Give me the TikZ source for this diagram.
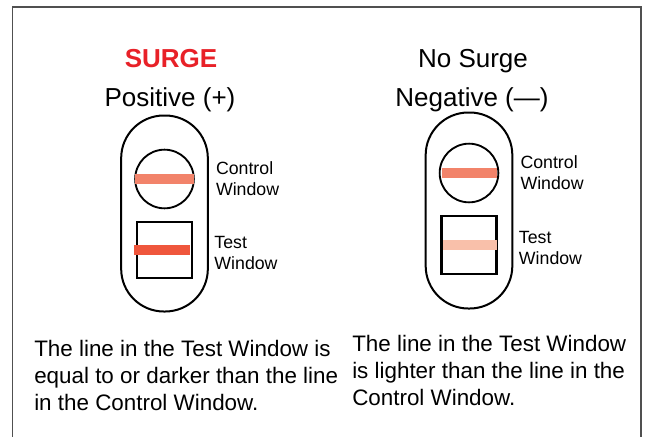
\documentclass[tikz,border=0pt]{standalone}
\usepackage{fontspec}
\setmainfont{Liberation Sans}
\usetikzlibrary{positioning}
\definecolor{surgered}{HTML}{E82128}
\definecolor{ctrlred}{HTML}{F2836A}
\definecolor{darkred}{HTML}{EF563C}
\definecolor{lightred}{HTML}{F9C0AA}
\definecolor{framegray}{HTML}{505050}

\begin{document}
\begin{tikzpicture}[
  x=0.75pt,y=-0.75pt,
  node distance=15.75pt,
  pill/.style={draw,line width=1.5pt,rounded corners=32pt,minimum width=65pt,minimum height=147pt,inner sep=0pt},
  ctrlwin/.style={draw,circle,line width=1.4pt,minimum size=44pt,inner sep=0pt},
  testwin/.style={draw,rectangle,line width=1.8pt,minimum width=41.25pt,minimum height=42pt,inner sep=0pt},
  winlabel/.style={align=left,inner sep=0pt,font=\fontsize{13.3}{15.75}\selectfont},
  title/.style={anchor=base,inner sep=0pt,font=\fontsize{19.5}{24}\selectfont},
  note/.style={anchor=base west,align=left,inner sep=0pt,font=\fontsize{16.8}{20.25}\selectfont},
  stripe/.style={line width=7pt}
]
\useasboundingbox (0,0) rectangle (649,436);
\draw[framegray,line width=1.2pt] (12.5,445) -- (12.5,7) -- (641,7) -- (641,445);

% positive side
\node[title,text=surgered,font=\fontsize{19.5}{24}\selectfont\bfseries] (posA) at (171,67) {SURGE};
\node[title] (posB) at (170,106.5) {Positive (+)};
\node[pill] (pillPos) at (164.5,213.5) {};
\node[ctrlwin] (ctrlPos) at (164.5,179) {};
\node[testwin] (testPos) at (164.5,250) {};
\draw[stripe,ctrlred] ([xshift=0.75pt]ctrlPos.west) -- ([xshift=-0.75pt]ctrlPos.east);
\draw[stripe,darkred] ([xshift=-1.5pt]testPos.west) -- ([xshift=-2.25pt]testPos.east);
\node[winlabel,right=of ctrlPos] (ctrlPosL) {Control\\Window};
\node[winlabel,right=of testPos,yshift=-2pt] (testPosL) {Test\\Window};
\node[note] (notePos) at (34,410) {The line in the Test Window is\\equal to or darker than the line\\in the Control Window.};

% negative side
\node[title] (negA) at (473,67) {No Surge};
\node[title] (negB) at (472,106) {Negative (—)};
\node[pill] (pillNeg) at (469,210.5) {};
\node[ctrlwin] (ctrlNeg) at (469,173) {};
\node[testwin,minimum height=43.5pt] (testNeg) at (469,245) {};
\draw[stripe,ctrlred] ([xshift=2.25pt]ctrlNeg.west) -- ([xshift=-1.5pt]ctrlNeg.east);
\draw[stripe,lightred] ([xshift=2.25pt]testNeg.west) -- ([xshift=-0.75pt]testNeg.east);
\node[winlabel,right=of ctrlNeg] (ctrlNegL) {Control\\Window};
\node[winlabel,right=of testNeg,yshift=-2pt] (testNegL) {Test\\Window};
\node[note] (noteNeg) at (352,405) {The line in the Test Window\\is lighter than the line in the\\Control Window.};
\end{tikzpicture}
\end{document}
